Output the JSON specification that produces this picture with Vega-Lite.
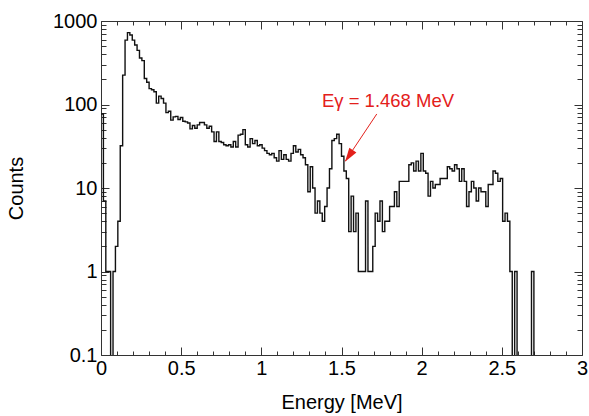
{
  "$schema": "https://vega.github.io/schema/vega-lite/v6.json",
  "width": 481,
  "height": 334,
  "autosize": {"type": "none"},
  "padding": {"left": 101, "top": 21, "right": 7, "bottom": 61},
  "background": "white",
  "config": {
    "view": {"stroke": null},
    "font": "Liberation Sans",
    "axis": {
      "grid": false,
      "domainColor": "#333333",
      "domainWidth": 1,
      "tickColor": "#333333",
      "tickWidth": 1,
      "labelColor": "#000000",
      "labelFont": "Liberation Sans",
      "labelFontSize": 20,
      "titleFont": "Liberation Sans",
      "titleFontSize": 20,
      "titleFontWeight": "normal",
      "titleColor": "#000000",
      "labelOverlap": false,
      "labelFlush": false,
      "labelBound": false
    }
  },
  "datasets": {
    "spectrum": [
      {"e": 0, "c": 77}, {"e": 0.015, "c": 7}, {"e": 0.03, "c": 1}, {"e": 0.045, "c": 1},
      {"e": 0.06, "c": 0.01}, {"e": 0.075, "c": 1}, {"e": 0.09, "c": 2}, {"e": 0.105, "c": 4},
      {"e": 0.12, "c": 32}, {"e": 0.135, "c": 225}, {"e": 0.15, "c": 590}, {"e": 0.165, "c": 725},
      {"e": 0.18, "c": 680}, {"e": 0.195, "c": 590}, {"e": 0.21, "c": 515}, {"e": 0.225, "c": 445},
      {"e": 0.24, "c": 360}, {"e": 0.255, "c": 335}, {"e": 0.27, "c": 205}, {"e": 0.285, "c": 185},
      {"e": 0.3, "c": 155}, {"e": 0.315, "c": 150}, {"e": 0.33, "c": 142}, {"e": 0.345, "c": 104},
      {"e": 0.36, "c": 126}, {"e": 0.375, "c": 118}, {"e": 0.39, "c": 104}, {"e": 0.405, "c": 80},
      {"e": 0.42, "c": 83}, {"e": 0.435, "c": 65}, {"e": 0.45, "c": 71}, {"e": 0.465, "c": 72},
      {"e": 0.48, "c": 66}, {"e": 0.495, "c": 70}, {"e": 0.51, "c": 63}, {"e": 0.525, "c": 62},
      {"e": 0.54, "c": 60}, {"e": 0.555, "c": 51}, {"e": 0.57, "c": 56}, {"e": 0.585, "c": 52},
      {"e": 0.6, "c": 57}, {"e": 0.615, "c": 61}, {"e": 0.63, "c": 61}, {"e": 0.645, "c": 57},
      {"e": 0.66, "c": 52}, {"e": 0.675, "c": 55}, {"e": 0.69, "c": 47}, {"e": 0.705, "c": 36},
      {"e": 0.72, "c": 47}, {"e": 0.735, "c": 36}, {"e": 0.75, "c": 35}, {"e": 0.765, "c": 33},
      {"e": 0.78, "c": 32}, {"e": 0.795, "c": 33}, {"e": 0.81, "c": 31}, {"e": 0.825, "c": 36},
      {"e": 0.84, "c": 31}, {"e": 0.855, "c": 43}, {"e": 0.87, "c": 44}, {"e": 0.885, "c": 50},
      {"e": 0.9, "c": 33}, {"e": 0.915, "c": 31}, {"e": 0.93, "c": 39}, {"e": 0.945, "c": 34},
      {"e": 0.96, "c": 37}, {"e": 0.975, "c": 32}, {"e": 0.99, "c": 33}, {"e": 1.005, "c": 30},
      {"e": 1.02, "c": 28}, {"e": 1.035, "c": 26}, {"e": 1.05, "c": 25}, {"e": 1.065, "c": 26},
      {"e": 1.08, "c": 23}, {"e": 1.095, "c": 21}, {"e": 1.11, "c": 28}, {"e": 1.125, "c": 22},
      {"e": 1.14, "c": 25}, {"e": 1.155, "c": 22}, {"e": 1.17, "c": 21}, {"e": 1.185, "c": 26},
      {"e": 1.2, "c": 32}, {"e": 1.215, "c": 27}, {"e": 1.23, "c": 29}, {"e": 1.245, "c": 25},
      {"e": 1.26, "c": 23}, {"e": 1.275, "c": 19}, {"e": 1.29, "c": 9}, {"e": 1.305, "c": 18},
      {"e": 1.32, "c": 10}, {"e": 1.335, "c": 5}, {"e": 1.35, "c": 7}, {"e": 1.365, "c": 5},
      {"e": 1.38, "c": 4}, {"e": 1.395, "c": 6}, {"e": 1.41, "c": 10}, {"e": 1.425, "c": 17},
      {"e": 1.44, "c": 37}, {"e": 1.455, "c": 39}, {"e": 1.47, "c": 44}, {"e": 1.485, "c": 34},
      {"e": 1.5, "c": 24}, {"e": 1.515, "c": 16}, {"e": 1.53, "c": 13}, {"e": 1.545, "c": 3},
      {"e": 1.56, "c": 8}, {"e": 1.575, "c": 3}, {"e": 1.59, "c": 5}, {"e": 1.605, "c": 1},
      {"e": 1.62, "c": 1}, {"e": 1.635, "c": 1}, {"e": 1.65, "c": 7}, {"e": 1.665, "c": 1},
      {"e": 1.68, "c": 1}, {"e": 1.695, "c": 2}, {"e": 1.71, "c": 5}, {"e": 1.725, "c": 4},
      {"e": 1.74, "c": 7}, {"e": 1.755, "c": 3}, {"e": 1.77, "c": 4}, {"e": 1.785, "c": 4},
      {"e": 1.8, "c": 6}, {"e": 1.815, "c": 6}, {"e": 1.83, "c": 9}, {"e": 1.845, "c": 6},
      {"e": 1.86, "c": 12}, {"e": 1.875, "c": 12}, {"e": 1.89, "c": 12}, {"e": 1.905, "c": 12},
      {"e": 1.92, "c": 19}, {"e": 1.935, "c": 20}, {"e": 1.95, "c": 16}, {"e": 1.965, "c": 21},
      {"e": 1.98, "c": 16}, {"e": 1.995, "c": 26}, {"e": 2.01, "c": 16}, {"e": 2.025, "c": 15},
      {"e": 2.04, "c": 8}, {"e": 2.055, "c": 12}, {"e": 2.07, "c": 10}, {"e": 2.085, "c": 11},
      {"e": 2.1, "c": 11}, {"e": 2.115, "c": 13}, {"e": 2.13, "c": 13}, {"e": 2.145, "c": 13},
      {"e": 2.16, "c": 18}, {"e": 2.175, "c": 17}, {"e": 2.19, "c": 16}, {"e": 2.205, "c": 19},
      {"e": 2.22, "c": 17}, {"e": 2.235, "c": 12}, {"e": 2.25, "c": 17}, {"e": 2.265, "c": 12},
      {"e": 2.28, "c": 6}, {"e": 2.295, "c": 9}, {"e": 2.31, "c": 12}, {"e": 2.325, "c": 10},
      {"e": 2.34, "c": 7}, {"e": 2.355, "c": 10}, {"e": 2.37, "c": 9}, {"e": 2.385, "c": 9},
      {"e": 2.4, "c": 6}, {"e": 2.415, "c": 11}, {"e": 2.43, "c": 11}, {"e": 2.445, "c": 16},
      {"e": 2.46, "c": 15}, {"e": 2.475, "c": 12}, {"e": 2.49, "c": 13}, {"e": 2.505, "c": 4},
      {"e": 2.52, "c": 5}, {"e": 2.535, "c": 4}, {"e": 2.55, "c": 1}, {"e": 2.565, "c": 0.01},
      {"e": 2.58, "c": 1}, {"e": 2.595, "c": 0.01}, {"e": 2.61, "c": 0.01}, {"e": 2.625, "c": 0.01},
      {"e": 2.64, "c": 0.01}, {"e": 2.655, "c": 0.01}, {"e": 2.67, "c": 0.01}, {"e": 2.685, "c": 1},
      {"e": 2.7, "c": 0.01}
    ],
    "annot": [{"e": 1.79, "c": 93, "label": "Eγ = 1.468 MeV"}],
    "arrow": [{"e": 1.72, "c": 77, "e2": 1.524, "c2": 21}],
    "head": [{"e": 1.5465, "c": 24.2}]
  },
  "layer": [
    {
      "data": {"name": "spectrum"},
      "mark": {"type": "line", "interpolate": "step-after", "clip": true, "color": "#111111", "strokeWidth": 1.4},
      "encoding": {
        "x": {
          "field": "e", "type": "quantitative",
          "scale": {"type": "linear", "domain": [0, 3], "nice": false, "zero": false},
          "axis": {
            "orient": "bottom",
            "values": [0,0.1,0.2,0.3,0.4,0.5,0.6,0.7,0.8,0.9,1,1.1,1.2,1.3,1.4,1.5,1.6,1.7,1.8,1.9,2,2.1,2.2,2.3,2.4,2.5,2.6,2.7,2.8,2.9,3],
            "title": "Energy [MeV]",
            "labelExpr": "abs(datum.value*2 - round(datum.value*2)) < 0.001 ? format(datum.value, '~g') : ''",
            "tickSize": {"condition": {"test": "abs(datum.value*2 - round(datum.value*2)) < 0.001", "value": -8}, "value": -4},
            "labelPadding": 11,
            "titlePadding": 10
          }
        },
        "y": {
          "field": "c", "type": "quantitative",
          "scale": {"type": "log", "domain": [0.1, 1000], "nice": false},
          "axis": {
            "orient": "left",
            "values": [0.1,0.2,0.3,0.4,0.5,0.6,0.7,0.8,0.9,1,2,3,4,5,6,7,8,9,10,20,30,40,50,60,70,80,90,100,200,300,400,500,600,700,800,900,1000],
            "title": "Counts",
            "labelExpr": "abs(log(datum.value)/LN10 - round(log(datum.value)/LN10)) < 0.001 ? format(datum.value, '~g') : ''",
            "tickSize": {"condition": {"test": "abs(log(datum.value)/LN10 - round(log(datum.value)/LN10)) < 0.001", "value": -8}, "value": -5},
            "labelPadding": 12,
            "titlePadding": 26
          }
        }
      }
    },
    {
      "data": {"name": "spectrum"},
      "mark": {"type": "line", "interpolate": "step-after", "clip": true, "opacity": 0},
      "encoding": {
        "x": {
          "field": "e", "type": "quantitative",
          "scale": {"type": "linear", "domain": [0, 3], "nice": false, "zero": false},
          "axis": {
            "orient": "top",
            "values": [0,0.1,0.2,0.3,0.4,0.5,0.6,0.7,0.8,0.9,1,1.1,1.2,1.3,1.4,1.5,1.6,1.7,1.8,1.9,2,2.1,2.2,2.3,2.4,2.5,2.6,2.7,2.8,2.9,3],
            "title": null,
            "labels": false,
            "tickSize": {"condition": {"test": "abs(datum.value*2 - round(datum.value*2)) < 0.001", "value": -8}, "value": -4}
          }
        },
        "y": {
          "field": "c", "type": "quantitative",
          "scale": {"type": "log", "domain": [0.1, 1000], "nice": false},
          "axis": {
            "orient": "right",
            "values": [0.1,0.2,0.3,0.4,0.5,0.6,0.7,0.8,0.9,1,2,3,4,5,6,7,8,9,10,20,30,40,50,60,70,80,90,100,200,300,400,500,600,700,800,900,1000],
            "title": null,
            "labels": false,
            "tickSize": {"condition": {"test": "abs(log(datum.value)/LN10 - round(log(datum.value)/LN10)) < 0.001", "value": -8}, "value": -5}
          }
        }
      }
    },
    {
      "data": {"name": "arrow"},
      "mark": {"type": "rule", "color": "#e3201b", "strokeWidth": 1},
      "encoding": {
        "x": {"field": "e", "type": "quantitative", "scale": {"type": "linear", "domain": [0, 3], "nice": false, "zero": false}, "axis": null},
        "y": {"field": "c", "type": "quantitative", "scale": {"type": "log", "domain": [0.1, 1000], "nice": false}, "axis": null},
        "x2": {"field": "e2"},
        "y2": {"field": "c2"}
      }
    },
    {
      "data": {"name": "head"},
      "mark": {"type": "point", "shape": "M0,-1L0.6,1L-0.6,1Z", "filled": true, "color": "#e3201b", "size": 200, "angle": 213.6, "opacity": 1},
      "encoding": {
        "x": {"field": "e", "type": "quantitative", "scale": {"type": "linear", "domain": [0, 3], "nice": false, "zero": false}, "axis": null},
        "y": {"field": "c", "type": "quantitative", "scale": {"type": "log", "domain": [0.1, 1000], "nice": false}, "axis": null}
      }
    },
    {
      "data": {"name": "annot"},
      "mark": {"type": "text", "color": "#e3201b", "font": "Liberation Sans", "fontSize": 18.5, "align": "center", "baseline": "alphabetic"},
      "encoding": {
        "x": {"field": "e", "type": "quantitative", "scale": {"type": "linear", "domain": [0, 3], "nice": false, "zero": false}, "axis": null},
        "y": {"field": "c", "type": "quantitative", "scale": {"type": "log", "domain": [0.1, 1000], "nice": false}, "axis": null},
        "text": {"field": "label"}
      }
    }
  ],
  "resolve": {"axis": {"x": "independent", "y": "independent"}}
}
